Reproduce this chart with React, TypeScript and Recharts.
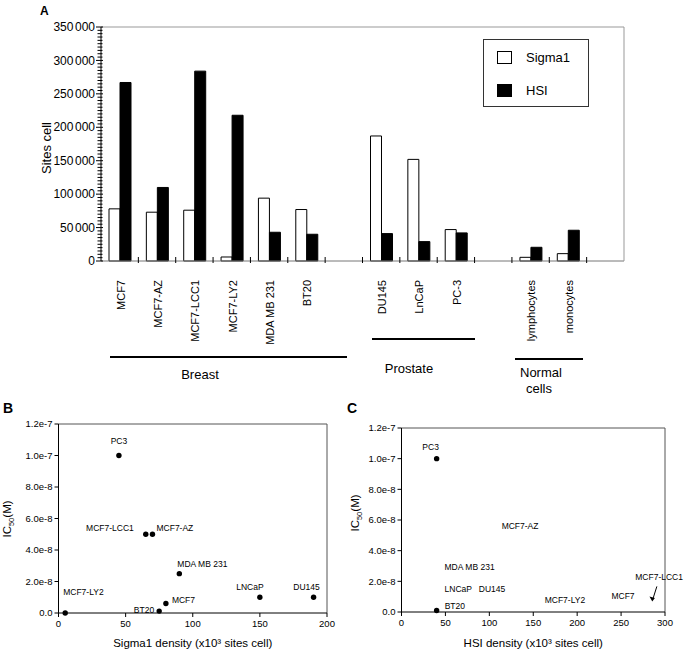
import React from 'react';
import {
  BarChart, Bar, XAxis, YAxis, Legend, ReferenceLine,
  ScatterChart, Scatter,
} from 'recharts';

const FONT = '"Liberation Sans", Arial, Helvetica, sans-serif';

// Panel A: binding sites per cell ('_' entries are the empty slots between groups)
const CELL_LINES = ['MCF7', 'MCF7-AZ', 'MCF7-LCC1', 'MCF7-LY2', 'MDA MB 231', 'BT20', '_1',
  'DU145', 'LnCaP', 'PC-3', '_2', 'lymphocytes', 'monocytes', '_3'];
const SIGMA1_SITES = [78000, 73000, 76000, 6000, 94000, 77000, null, 187000, 152000, 47000, null, 5500, 11000, null];
const HSI_SITES = [267000, 110000, 284000, 218000, 43000, 40000, null, 41000, 29000, 42000, null, 20500, 46000, null];
const SITES_TICKS = [0, 50000, 100000, 150000, 200000, 250000, 300000, 350000];
const SITES_MINOR_PER_MAJOR = 10;
const SERIES = ['Sigma1', 'HSI'];

// Panel B: IC50 vs Sigma1 density (x10^3 sites/cell)
const B_NAMES = ['PC3', 'MCF7-LCC1', 'MCF7-AZ', 'MDA MB 231', 'LNCaP', 'DU145', 'MCF7-LY2', 'MCF7', 'BT20'];
const B_SIGMA1 = [45, 65, 70, 90, 150, 190, 5, 80, 75];
const B_IC50 = [1e-7, 5e-8, 5e-8, 2.5e-8, 1e-8, 1e-8, 0, 6e-9, 1.2e-9];

// Panel C: IC50 vs HSI density, only two dots are drawn, the rest are bare labels
const C_NAMES = ['PC3', 'BT20'];
const C_HSI = [40, 40];
const C_IC50 = [1e-7, 1e-9];
const C_TEXT_NAMES = ['MCF7-AZ', 'MDA MB 231', 'LNCaP', 'DU145', 'MCF7-LY2', 'MCF7'];
const C_TEXT_HSI = [114, 49, 49, 88, 163, 239];
const C_TEXT_IC50 = [5.6e-8, 2.96e-8, 1.51e-8, 1.51e-8, 0.75e-8, 1.06e-8];
const C_ARROW = { name: 'MCF7-LCC1', x: 285.5, y: 0.69e-8 };

const SIGMA1_TICKS = [0, 50, 100, 150, 200];
const HSI_TICKS = [0, 50, 100, 150, 200, 250, 300];
const IC50_TICKS = [0, 2e-8, 4e-8, 6e-8, 8e-8, 1e-7, 1.2e-7];

const barData = CELL_LINES.map((cell, i) => ({ cell, sigma1: SIGMA1_SITES[i], hsi: HSI_SITES[i] }));
const bData = B_NAMES.map((name, i) => ({ name, x: B_SIGMA1[i], y: B_IC50[i] }));
const cData = C_NAMES.map((name, i) => ({ name, x: C_HSI[i], y: C_IC50[i] }));
const cTextData = C_TEXT_NAMES.map((name, i) => ({ name, x: C_TEXT_HSI[i], y: C_TEXT_IC50[i] }));

const A_LEFT = 101;
const A_RIGHT = 624;
const A_TOP = 27;
const A_BOTTOM = 261;
const BAND = (A_RIGHT - A_LEFT) / CELL_LINES.length;
const MAJOR_GAP = (A_BOTTOM - A_TOP) / (SITES_TICKS.length - 1);

const fmtIC50 = (v: number) => (v === 0 ? '0.0' : v.toExponential(1));

// label offsets (relative to the dot)
const B_LABEL: Record<string, { dx: number; dy: number; anchor: string }> = {
  'PC3': { dx: 0, dy: -14, anchor: 'middle' },
  'MCF7-LCC1': { dx: -12, dy: -6, anchor: 'end' },
  'MCF7-AZ': { dx: 4, dy: -6, anchor: 'start' },
  'MDA MB 231': { dx: -2, dy: -10, anchor: 'start' },
  'LNCaP': { dx: -10, dy: -10, anchor: 'middle' },
  'DU145': { dx: -7, dy: -10, anchor: 'middle' },
  'MCF7-LY2': { dx: -2, dy: -21, anchor: 'start' },
  'MCF7': { dx: 6, dy: -4, anchor: 'start' },
  'BT20': { dx: -5, dy: -1, anchor: 'end' },
};
const C_LABEL: Record<string, { dx: number; dy: number; anchor: string }> = {
  'PC3': { dx: -6, dy: -12, anchor: 'middle' },
  'BT20': { dx: 8, dy: -4, anchor: 'start' },
};

// major tick + label, plus the minor ticks down to the next major
const SitesTick = (props: any) => {
  const { x, y, payload } = props;
  const v = payload.value;
  const minors = [];
  if (v > 0) {
    for (let k = 1; k < SITES_MINOR_PER_MAJOR; k++) {
      const yy = y + (k * MAJOR_GAP) / SITES_MINOR_PER_MAJOR;
      minors.push(<line key={k} x1={x - 3.5} x2={x + 1.5} y1={yy} y2={yy} stroke="#000" />);
    }
  }
  return (
    <g>
      {minors}
      <line x1={x - 5} x2={x + 2} y1={y} y2={y} stroke="#000" />
      <text x={x - 6} y={y} dy="0.35em" textAnchor="end" fontSize={12} fill="#000">
        {v === 0 ? '0' : (
          <>
            <tspan>{Math.floor(v / 1000)}</tspan>
            <tspan dx={1.5}>{String(v % 1000).padStart(3, '0')}</tspan>
          </>
        )}
      </text>
    </g>
  );
};

const CategoryTick = (props: any) => {
  const { x, y, payload, index } = props;
  const label = String(payload.value).startsWith('_') ? '' : payload.value;
  return (
    <g>
      {index < CELL_LINES.length - 1 && (
        <line x1={x + BAND / 2} x2={x + BAND / 2} y1={y - 4} y2={y + 2} stroke="#000" />
      )}
      <text transform={`translate(${x + 1},${y + 19}) rotate(-90)`} textAnchor="end" dy="0.35em" fontSize={11} fill="#000">
        {label}
      </text>
    </g>
  );
};

const SWATCH: Record<string, string> = { Sigma1: '#fff', HSI: '#000' };

const LegendBox = () => (
  <div style={{ border: '1px solid #333', width: 106, height: 68, boxSizing: 'border-box', padding: '11px 0 0 13px', background: '#fff' }}>
    {SERIES.map((name) => (
      <div key={name} style={{ display: 'flex', alignItems: 'center', height: 13, marginBottom: 20 }}>
        <span style={{ width: 15, height: 13, boxSizing: 'border-box', border: '1px solid #000', background: SWATCH[name] }} />
        <span style={{ marginLeft: 14, fontSize: 13, lineHeight: '13px' }}>{name}</span>
      </div>
    ))}
  </div>
);

const makeDot = (labels: Record<string, { dx: number; dy: number; anchor: string }>) => (props: any) => {
  const { cx, cy, payload } = props;
  const l = labels[payload.name];
  return (
    <g>
      <circle cx={cx} cy={cy} r={2.7} fill="#000" />
      {l && (
        <text x={cx + l.dx} y={cy + l.dy} dy="0.35em" textAnchor={l.anchor} fontSize={8.5} fill="#000">{payload.name}</text>
      )}
    </g>
  );
};

const TextOnly = (props: any) => {
  const { cx, cy, payload } = props;
  return <text x={cx} y={cy} dy="0.35em" fontSize={8.5} fill="#000">{payload.name}</text>;
};

const ArrowLabel = (props: any) => {
  const { cx, cy, payload } = props;
  return (
    <g>
      <line x1={cx + 4.6} y1={cy - 15} x2={cx + 0.8} y2={cy - 3} stroke="#000" strokeWidth={1} />
      <polygon points={`${cx},${cy} ${cx - 2.8},${cy - 5} ${cx + 2.6},${cy - 3.4}`} fill="#000" />
      <text x={cx - 17} y={cy - 24} dy="0.35em" fontSize={8.5} fill="#000">{payload.name}</text>
    </g>
  );
};

const tickStyle = { fontSize: 9.5, fill: '#000' };

const IC50Title = ({ cx, cy }: { cx: number; cy: number }) => (
  <text transform={`translate(${cx},${cy}) rotate(-90)`} textAnchor="middle" dy="0.35em" fontSize={11.5} fill="#000">
    IC<tspan fontSize={7.5} dy={3}>50</tspan><tspan dy={-3}>(M)</tspan>
  </text>
);

export default function App() {
  return (
    <div style={{ position: 'absolute', left: 0, top: 0, width: 685, height: 650, background: '#fff', fontFamily: FONT, color: '#000' }}>
      <div style={{ position: 'absolute', left: 0, top: 0 }}>
        <BarChart width={685} height={400} data={barData} margin={{ top: A_TOP, right: 685 - A_RIGHT, left: 41, bottom: 0 }} barGap={0} barSize={11}>
          <XAxis dataKey="cell" interval={0} tickLine={false} tickSize={0} tickMargin={0} height={400 - A_BOTTOM}
            tick={<CategoryTick />} axisLine={{ stroke: '#777' }} />
          <YAxis domain={[0, 350000]} ticks={SITES_TICKS} interval={0} tickLine={false} tickSize={0} tickMargin={0}
            width={60} tick={<SitesTick />} axisLine={{ stroke: '#000' }} />
          <ReferenceLine y={350000} stroke="#999" />
          <Legend layout="vertical" align="center" verticalAlign="middle" content={<LegendBox />}
            wrapperStyle={{ position: 'absolute', left: 483, top: 39, width: 106, height: 68 }} />
          <Bar dataKey="sigma1" name="Sigma1" fill="#fff" stroke="#000" strokeWidth={1} isAnimationActive={false} />
          <Bar dataKey="hsi" name="HSI" fill="#000" stroke="#000" strokeWidth={1} isAnimationActive={false} />
        </BarChart>
      </div>

      <div style={{ position: 'absolute', left: 0, top: 390 }}>
        <ScatterChart width={340} height={260} margin={{ top: 34, right: 13, left: 0, bottom: 0 }}>
          <XAxis type="number" dataKey="x" domain={[0, 200]} ticks={SIGMA1_TICKS} tickSize={4} tickMargin={3} height={37}
            tick={tickStyle} stroke="#000"
            label={{ value: 'Sigma1 density (x10³ sites cell)', position: 'insideBottom', offset: 3, fontSize: 11.5, fill: '#000' }} />
          <YAxis type="number" dataKey="y" domain={[0, 1.2e-7]} ticks={IC50_TICKS} tickFormatter={fmtIC50} tickSize={4} tickMargin={2}
            width={58.5} tick={tickStyle} stroke="#000" />
          <ReferenceLine y={1.2e-7} stroke="#555" />
          <ReferenceLine x={200} stroke="#555" />
          <Scatter data={bData} shape={makeDot(B_LABEL)} isAnimationActive={false} />
        </ScatterChart>
      </div>

      <div style={{ position: 'absolute', left: 340, top: 390 }}>
        <ScatterChart width={345} height={260} margin={{ top: 38, right: 20, left: 0, bottom: 0 }}>
          <XAxis type="number" dataKey="x" domain={[0, 300]} ticks={HSI_TICKS} tickSize={4} tickMargin={3} height={38}
            tick={tickStyle} stroke="#000"
            label={{ value: 'HSI density (x10³ sites cell)', position: 'insideBottom', offset: 3, fontSize: 11.5, fill: '#000' }} />
          <YAxis type="number" dataKey="y" domain={[0, 1.2e-7]} ticks={IC50_TICKS} tickFormatter={fmtIC50} tickSize={4} tickMargin={2}
            width={61.5} tick={tickStyle} stroke="#000" />
          <ReferenceLine y={1.2e-7} stroke="#555" />
          <ReferenceLine x={300} stroke="#555" />
          <Scatter data={cData} shape={makeDot(C_LABEL)} isAnimationActive={false} />
          <Scatter data={cTextData} shape={<TextOnly />} isAnimationActive={false} />
          <Scatter data={[C_ARROW]} shape={<ArrowLabel />} isAnimationActive={false} />
        </ScatterChart>
      </div>

      <svg width={685} height={650} style={{ position: 'absolute', left: 0, top: 0, pointerEvents: 'none' }}>
        <text x={40} y={15} fontSize={12} fontWeight="bold">A</text>
        <text x={3} y={413} fontSize={14} fontWeight="bold">B</text>
        <text x={347} y={413} fontSize={14} fontWeight="bold">C</text>
        <line x1={A_RIGHT} x2={A_RIGHT} y1={A_TOP} y2={A_BOTTOM} stroke="#999" />
        <text transform="translate(46,148) rotate(-90)" textAnchor="middle" dy="0.35em" fontSize={13}>Sites cell</text>

        <line x1={110} x2={347} y1={357} y2={357} stroke="#000" strokeWidth={2} />
        <line x1={372} x2={475} y1={339} y2={339} stroke="#000" strokeWidth={2} />
        <line x1={515} x2={583} y1={359} y2={359} stroke="#000" strokeWidth={2} />
        <text x={200} y={379} textAnchor="middle" fontSize={13}>Breast</text>
        <text x={409} y={373} textAnchor="middle" fontSize={13}>Prostate</text>
        <text x={520} y={377} fontSize={13}>Normal</text>
        <text x={526} y={393} fontSize={13}>cells</text>

        <IC50Title cx={7} cy={519} />
        <IC50Title cx={355} cy={513} />
      </svg>
    </div>
  );
}
